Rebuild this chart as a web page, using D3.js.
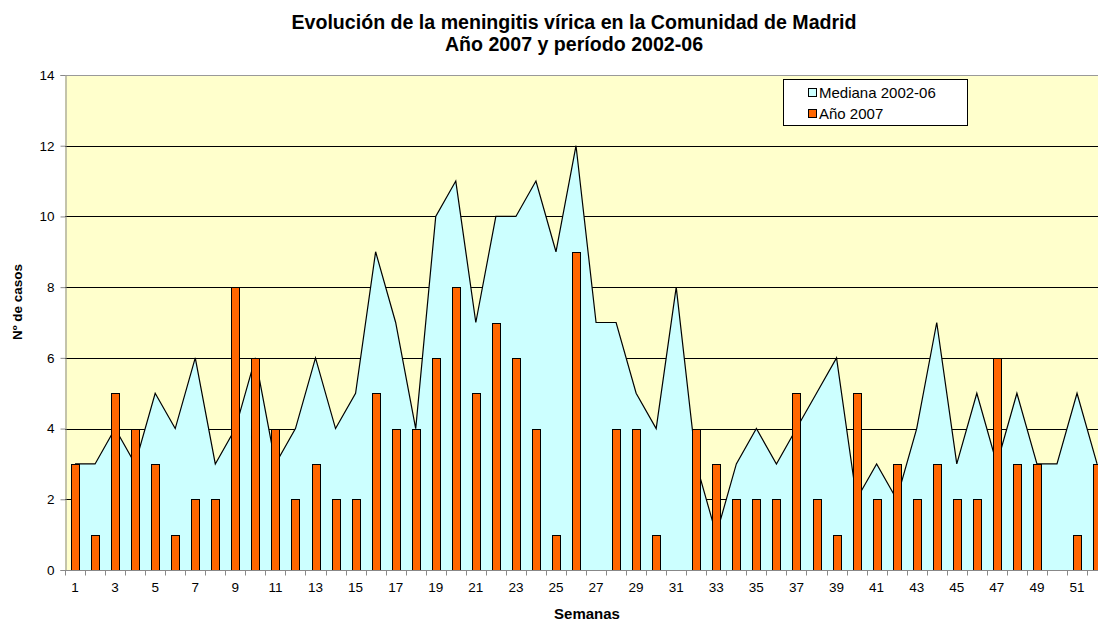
<!DOCTYPE html>
<html><head><meta charset="utf-8">
<script src="https://cdn.jsdelivr.net/npm/d3@7"></script>
<style>
body{margin:0;background:#fff;}
svg{display:block;font-family:"Liberation Sans",Arial,sans-serif;}
</style></head>
<body>
<svg id="chart" width="1098" height="622"></svg>
<script>
const weeks = d3.range(1, 53);
const mediana = [3,3,4,3,5,4,6,3,4,6,3,4,6,4,5,9,7,4,10,11,7,10,10,11,9,12,7,7,5,4,8,3,1,3,4,3,4,5,6,2,3,2,4,7,3,5,3,5,3,3,5,3];
const anio2007 = [3,1,5,4,3,1,2,2,8,6,4,2,3,2,2,5,4,4,6,8,5,7,6,4,1,9,0,4,4,1,0,4,3,2,2,2,5,2,1,5,2,3,2,3,2,2,6,3,3,0,1,3];
const yTicks = [0,2,4,6,8,10,12,14];
const xTickLabels = weeks.filter(w => w % 2 === 1);
const titleLines = ["Evolución de la meningitis vírica en la Comunidad de Madrid", "Año 2007 y período 2002-06"];
const legendItems = [{label:"Mediana 2002-06", color:"#CCFFFF"}, {label:"Año 2007", color:"#FF6600"}];

const svg = d3.select("#chart");
const pLeft = 65, pTop = 75, pBottom = 570, step = 20.04;
const pRight = pLeft + step * weeks.length;

const x = d3.scaleBand().domain(weeks).range([pLeft, pRight]).padding(0);
const y = d3.scaleLinear().domain([0, 14]).range([pBottom, pTop]);
const cx = w => x(w) + x.bandwidth() / 2;

// background
svg.append("rect").attr("x", pLeft).attr("y", pTop).attr("width", pRight - pLeft).attr("height", pBottom - pTop).attr("fill", "#FFFFCC");

// gridlines
svg.append("g").selectAll("line").data(yTicks.filter(t => t > 0)).join("line")
  .attr("x1", pLeft).attr("x2", pRight)
  .attr("y1", d => Math.round(y(d)) + 0.5).attr("y2", d => Math.round(y(d)) + 0.5)
  .attr("stroke", d => d === 14 ? "#999" : "#000").attr("stroke-width", 1);

// area
const data = weeks.map((w, i) => ({w, m: mediana[i], a: anio2007[i]}));
const area = d3.area().x(d => cx(d.w)).y0(y(0)).y1(d => y(d.m));
const line = d3.line().x(d => cx(d.w)).y(d => y(d.m));
svg.append("path").datum(data).attr("d", area).attr("fill", "#CCFFFF");
svg.append("path").datum(data).attr("d", line).attr("fill", "none").attr("stroke", "#000").attr("stroke-width", 1.2);

// bars
const bw = 8;
svg.append("g").selectAll("rect").data(data.filter(d => d.a > 0)).join("rect")
  .attr("x", d => Math.round(cx(d.w) - bw / 2) + 0.5)
  .attr("y", d => Math.round(y(d.a)) + 0.5)
  .attr("width", bw)
  .attr("height", d => Math.round(y(0)) - Math.round(y(d.a)))
  .attr("fill", "#FF6600").attr("stroke", "#000").attr("stroke-width", 1);

// axes
const yAxis = d3.axisLeft(y).tickValues(yTicks).tickSize(5).tickPadding(6);
const gy = svg.append("g").attr("transform", `translate(${pLeft + 0.5},0)`).call(yAxis);
gy.select(".domain").attr("stroke", "#888");
gy.selectAll(".tick line").attr("stroke", "#888");
gy.selectAll("text").attr("font-size", 13.5).attr("fill", "#000").attr("font-family", "Liberation Sans, Arial, sans-serif");

const gx = svg.append("g").attr("transform", `translate(0,${pBottom + 0.5})`);
gx.append("line").attr("x1", pLeft).attr("x2", pRight).attr("stroke", "#888");
gx.selectAll("line.tk").data(d3.range(0, weeks.length + 1)).join("line").attr("class", "tk")
  .attr("x1", i => Math.round(pLeft + i * step) + 0.5).attr("x2", i => Math.round(pLeft + i * step) + 0.5)
  .attr("y1", 0).attr("y2", 5).attr("stroke", "#888");
gx.selectAll("text").data(xTickLabels).join("text")
  .attr("x", d => cx(d)).attr("y", 21).attr("text-anchor", "middle")
  .attr("font-size", 13.5).text(d => d);

// top border
svg.append("line").attr("x1", pLeft).attr("x2", pRight).attr("y1", pTop + 0.5).attr("y2", pTop + 0.5).attr("stroke", "#999");

// titles
svg.append("g").selectAll("text").data(titleLines).join("text")
  .attr("x", 574).attr("y", (d, i) => 29 + i * 22).attr("text-anchor", "middle")
  .attr("font-size", 19.6).attr("font-weight", "bold").text(d => d);

svg.append("text").attr("x", 587).attr("y", 619).attr("text-anchor", "middle")
  .attr("font-size", 15).attr("font-weight", "bold").text("Semanas");
svg.append("text").attr("transform", "translate(22,302) rotate(-90)").attr("text-anchor", "middle")
  .attr("font-size", 13.5).attr("font-weight", "bold").text("Nº de casos");

// legend
const lg = svg.append("g");
lg.append("rect").attr("x", 783.5).attr("y", 79.5).attr("width", 184).attr("height", 46).attr("fill", "#fff").attr("stroke", "#000");
const li = lg.selectAll("g").data(legendItems).join("g").attr("transform", (d, i) => `translate(0,${i * 21})`);
li.append("rect").attr("x", 808.5).attr("y", 88.5).attr("width", 8).attr("height", 8).attr("fill", d => d.color).attr("stroke", "#000");
li.append("text").attr("x", 819).attr("y", 97.5).attr("font-size", 15).text(d => d.label);
</script>
</body></html>
